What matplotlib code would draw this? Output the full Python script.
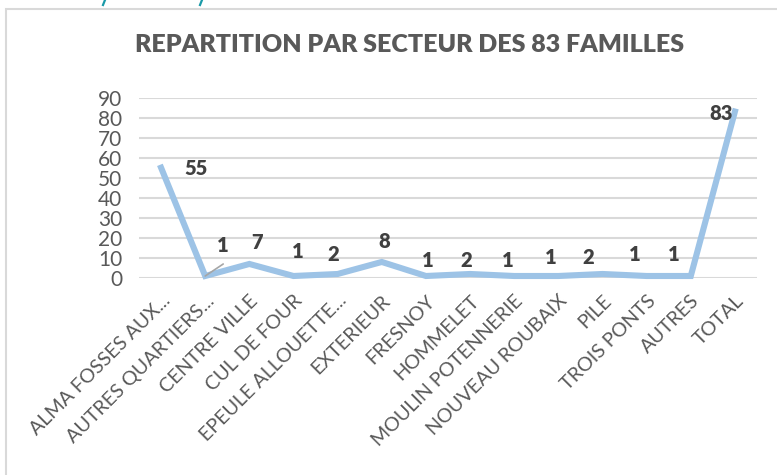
import matplotlib
matplotlib.use("Agg")
import matplotlib.pyplot as plt
import numpy as np
from matplotlib.patches import Rectangle
from matplotlib.lines import Line2D

plt.rcParams['font.family'] = ['Lato', 'DejaVu Sans']

# data
secteurs = ['ALMA FOSSES AUX...', 'AUTRES QUARTIERS...', 'CENTRE VILLE', 'CUL DE FOUR',
            'EPEULE ALLOUETTE...', 'EXTERIEUR', 'FRESNOY', 'HOMMELET',
            'MOULIN POTENNERIE', 'NOUVEAU ROUBAIX', 'PILE', 'TROIS PONTS',
            'AUTRES', 'TOTAL']
familles = [55, 1, 7, 1, 2, 8, 1, 2, 1, 1, 2, 1, 1, 83]
title = "REPARTITION PAR SECTEUR DES 83 FAMILLES"

# label placement (pixels from the point), as in the excel chart
label_dx = [35, 18, 8, 4, -4, 2, 2, -4, -6, -8, -14, -12, -17, -14]
label_dy = [-1, 30, 21, 24, 19, 20, 15, 13, 15, 18, 16, 21, 21, -2]

W, H = 777, 475
fig = plt.figure(figsize=(W / 100, H / 100), dpi=100)

# chart frame (cut off on the right and bottom)
fig.patches.append(Rectangle((6 / W, -0.1), 1.2, 1 - 9 / H + 0.1, transform=fig.transFigure,
                             fill=False, edgecolor='#d9d9d9', linewidth=1.5))
# scraps of the page text above the chart
for xp in [105, 202]:
    fig.lines.append(Line2D([xp / W, (xp - 2) / W], [1.0, 1 - 5 / H], transform=fig.transFigure,
                            color='#1a9aa8', linewidth=1.6))

ax = fig.add_axes([139 / W, 1 - 278 / H, (757 - 139) / W, (278 - 97.5) / H])
x = np.arange(len(secteurs))
ax.plot(x, familles, color='#9dc3e6', linewidth=4.4, solid_joinstyle='miter', zorder=3,
        clip_on=False)

ax.set_xlim(-0.5, len(secteurs) - 0.5)
ax.set_ylim(0, 90)
ax.set_yticks(np.arange(0, 91, 10))
ax.yaxis.grid(True, color='#d9d9d9', linewidth=1.5)
ax.set_axisbelow(True)
for s in ax.spines.values():
    s.set_visible(False)
ax.tick_params(axis='both', length=0, colors='#595959')
ax.tick_params(axis='y', labelsize=15, pad=12)
ax.set_xticks(x)
ax.set_xticklabels(secteurs, rotation=45, ha='right', va='top', rotation_mode='anchor',
                   fontsize=14.2, color='#595959')
ax.tick_params(axis='x', pad=10)

for i, v in enumerate(familles):
    ax.annotate(str(v), (x[i], v), xytext=(label_dx[i], label_dy[i]),
                textcoords='offset pixels', ha='center', va='center',
                fontsize=14.5, fontweight='heavy', color='#404040', zorder=4)

# leader line for the small label
ax.annotate('', (x[1], familles[1]), xytext=(18, 12), textcoords='offset pixels',
            arrowprops=dict(arrowstyle='-', color='#a6a6a6', lw=1.2, shrinkA=0, shrinkB=0))

fig.text(410 / W, 1 - 45 / H, title, ha='center', va='center', fontsize=18,
         fontweight='heavy', color='#595959')

fig.savefig('out.png', dpi=100)
